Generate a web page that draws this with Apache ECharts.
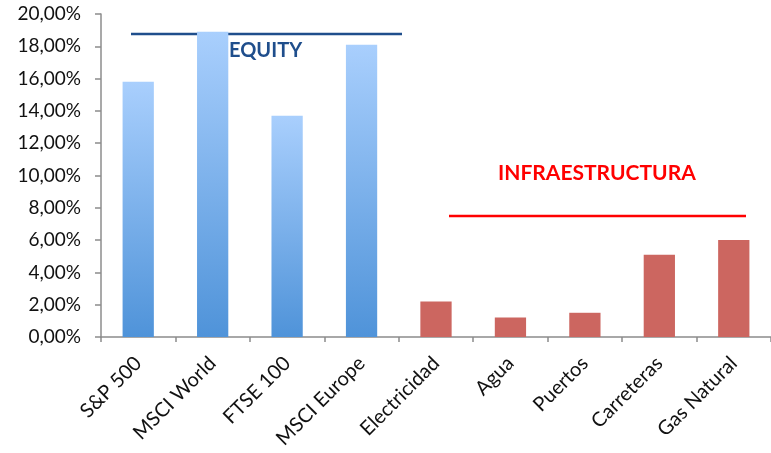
<!DOCTYPE html>
<html><head><meta charset="utf-8">
<script src="https://cdn.jsdelivr.net/npm/echarts@6/dist/echarts.min.js"></script>
<style>html,body{margin:0;padding:0;background:#fff}#c{width:771px;height:453px}</style>
</head><body><div id="c"></div>
<script>
var categories = ['S&P 500','MSCI World','FTSE 100','MSCI Europe','Electricidad','Agua','Puertos','Carreteras','Gas Natural'];
var equityValues = [15.8, 18.9, 13.7, 18.1, null, null, null, null, null];
var infraValues = [null, null, null, null, 2.2, 1.2, 1.5, 5.1, 6.0];
var yTicks = [0, 2, 4, 6, 8, 10, 12, 14, 16, 18, 20];

var chart = echarts.init(document.getElementById('c'));
var font = 'Lato, "Open Sans", sans-serif';
chart.setOption({
  animation: false,
  grid: {left: 101, right: 0, top: 14, bottom: 116},
  xAxis: {
    type: 'category', data: categories,
    axisLine: {lineStyle: {color: '#8c8c8c', width: 1.5}},
    axisTick: {show: true, length: 5, lineStyle: {color: '#8c8c8c', width: 1.5}},
    axisLabel: {rotate: 45, fontSize: 20, color: '#111', fontFamily: font, margin: 23, interval: 0}
  },
  yAxis: {
    type: 'value', min: yTicks[0], max: yTicks[yTicks.length - 1], interval: 2,
    splitLine: {show: false},
    axisLine: {show: true, lineStyle: {color: '#8c8c8c', width: 1.5}},
    axisTick: {show: true, length: 6, lineStyle: {color: '#8c8c8c', width: 1.5}},
    axisLabel: {fontSize: 19, color: '#111', fontFamily: font, margin: 20,
      formatter: function (v) { return v.toFixed(2).replace('.', ',') + '%'; }}
  },
  series: [
    {type: 'bar', data: equityValues, stack: 's', barWidth: '42%',
     itemStyle: {color: new echarts.graphic.LinearGradient(0, 0, 0, 1, [
       {offset: 0, color: '#a9cffd'}, {offset: 1, color: '#4f93d9'}])}},
    {type: 'bar', data: infraValues, stack: 's', barWidth: '42%',
     itemStyle: {color: '#cc6660'}}
  ],
  graphic: [
    {type: 'line', shape: {x1: 131, y1: 34, x2: 402, y2: 34}, style: {stroke: '#1f4e8c', lineWidth: 2.5}},
    {type: 'text', left: 229, top: 41, style: {text: 'EQUITY', fill: '#1f4e8c', font: 'bold 20px ' + font}},
    {type: 'text', left: 498, top: 163, style: {text: 'INFRAESTRUCTURA', fill: '#ff0000', font: 'bold 21px ' + font}},
    {type: 'line', shape: {x1: 449, y1: 216, x2: 746, y2: 216}, style: {stroke: '#ff0000', lineWidth: 2.5}}
  ]
});
</script></body></html>
